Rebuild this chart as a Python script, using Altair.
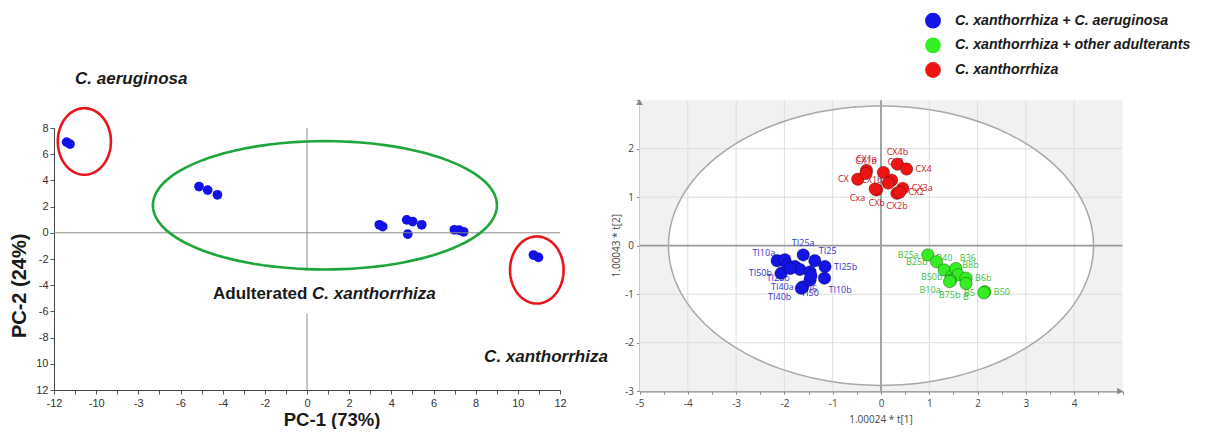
import altair as alt
import pandas as pd
import numpy as np

FONT = "Liberation Sans"
FONT2 = "Open Sans"

# ---------------- Left panel: PCA score plot ----------------
pca_x = [-11.40, -11.24, -5.12, -4.71, -4.25, 3.43, 3.59, 4.73, 5.01, 5.44, 4.78, 6.99, 7.22, 7.43, 10.74, 10.98]
pca_y = [6.92, 6.77, 3.53, 3.26, 2.90, 0.61, 0.48, 0.99, 0.86, 0.61, -0.10, 0.23, 0.20, 0.08, -1.70, -1.88]

# group ellipses (centre x, centre y, radius x, radius y)
red_ell_cx = [-10.56, 10.90]
red_ell_cy = [6.97, -2.84]
red_ell_rx = [1.26, 1.27]
red_ell_ry = [2.54, 2.56]
green_ell_cx = [0.85]
green_ell_cy = [2.10]
green_ell_rx = [8.16]
green_ell_ry = [4.90]

left_x_ticks = list(range(-12, 13))
left_y_ticks = list(range(-12, 9))

# ---------------- Right panel: OPLS score plot ----------------
groups = ["C. xanthorrhiza + C. aeruginosa", "C. xanthorrhiza + other adulterants", "C. xanthorrhiza"]

red_x = [-0.48, -0.30, -0.31, -0.09, -0.12, 0.05, 0.22, 0.15, 0.34, 0.53, 0.45, 0.33, 0.38]
red_y = [1.37, 1.55, 1.49, 1.15, 1.17, 1.51, 1.35, 1.29, 1.68, 1.58, 1.18, 1.08, 1.10]
red_lab = ["CX", "CX1a", "CX1b", "CXb", "Cxa", "CX3", "CX1b", "", "CX4b", "CX4", "CX3a", "CX2b", "CX2"]
red_side = ["L", "T", "T", "B", "BL", "TR", "L", "L", "T", "R", "R", "B", "R"]

blue_x = [-2.15, -1.99, -2.07, -1.94, -1.78, -1.61, -1.68, -1.47, -1.37, -1.62, -1.65, -1.47, -1.45, -1.16, -1.17, -1.88]
blue_y = [-0.31, -0.29, -0.57, -0.40, -0.43, -0.19, -0.49, -0.54, -0.31, -0.85, -0.88, -0.71, -0.62, -0.43, -0.67, -0.47]
blue_lab = ["TI10a", "", "TI50b", "", "", "TI25a", "TI25b", "", "TI25", "TI40a", "TI40b", "TI50", "TI6", "TI25b", "TI10b", ""]
blue_side = ["TL", "L", "L", "L", "L", "T", "BL", "L", "TR", "L", "BL", "B", "B", "R", "BR", "L"]

green_x = [0.97, 1.15, 1.31, 1.46, 1.55, 1.60, 1.44, 1.42, 1.76, 1.76, 2.15, 2.13]
green_y = [-0.19, -0.33, -0.50, -0.64, -0.47, -0.60, -0.72, -0.74, -0.67, -0.78, -0.95, -0.97]
green_lab = ["B25a", "B25b", "B40", "B50b", "B36", "B8b", "B10a", "B75b", "B6b", "B", "B50", "B5"]
green_side = ["L", "L", "T", "L", "TR", "TR", "BL", "B", "R", "B", "R", "L"]

hot_rx = [4.40]
hot_ry = [2.88]
right_x_ticks = [v / 2 for v in range(-10, 11)]
right_y_ticks = [v / 2 for v in range(-6, 7)]
grid_x = [-4, -3, -2, -1, 1, 2, 3, 4]
grid_y = [-2, -1, 1, 2]

point_colors = ["#1414e6", "#33ee22", "#ee1414"]
label_colors = ["#3535c8", "#40c040", "#c8202a"]

# ---------------- scales ----------------
xL = alt.Scale(domain=[-12, 12], range=[46, 552], nice=False, zero=False)
yL = alt.Scale(domain=[-12, 8], range=[382, 120], nice=False, zero=False)
xR = alt.Scale(domain=[-5, 5], range=[631.5, 1114.5], nice=False, zero=False)
yR = alt.Scale(domain=[-3, 3], range=[383.2, 92.2], nice=False, zero=False)
fillS = alt.Scale(domain=groups, range=point_colors)
legY = alt.Scale(domain=groups, range=[12.7, 62], padding=0)


def ell_df(cxs, cys, rxs, rys, n=120):
    rows = []
    for i, (cx, cy, rx, ry) in enumerate(zip(cxs, cys, rxs, rys)):
        for k in range(n + 1):
            t = 2 * np.pi * k / n
            rows.append({"id": i, "k": k, "x": cx + rx * np.cos(t), "y": cy + ry * np.sin(t)})
    return pd.DataFrame(rows)


def LX(f="x"):
    return alt.X(f, type="quantitative", scale=xL)


def LY(f="y"):
    return alt.Y(f, type="quantitative", scale=yL)


def RX(f="x"):
    return alt.X(f, type="quantitative", scale=xR)


def RY(f="y"):
    return alt.Y(f, type="quantitative", scale=yR)


# ---------- left layers ----------
pca_df = pd.DataFrame({"x": pca_x, "y": pca_y})

left_points = alt.Chart(pca_df).mark_circle(size=95, color="#1212e8", opacity=1).encode(
    x=alt.X("x:Q", scale=xL, axis=alt.Axis(
        orient="bottom", offset=-39, title=None, grid=False, values=left_x_ticks,
        labelExpr="datum.value % 2 != 0 ? '' : (datum.value == -8 ? '-3' : toString(datum.value))",
        tickSize=4, tickColor="#555", domainColor="#444", labelFont=FONT, labelFontSize=11,
        labelColor="#333", labelPadding=3, labelFlush=False, labelOverlap=False)),
    y=alt.Y("y:Q", scale=yL, axis=alt.Axis(
        orient="left", offset=-46, title=None, grid=False, values=left_y_ticks,
        labelExpr="datum.value % 2 != 0 ? '' : (datum.value < -9 ? toString(-datum.value) : toString(datum.value))",
        tickSize=4, tickColor="#555", domainColor="#444", labelFont=FONT, labelFontSize=11,
        labelColor="#333", labelPadding=2, labelFlush=False, labelOverlap=False)),
)

hline_df = pd.DataFrame({"x": [-12], "x2": [12], "y": [0]})
left_h = alt.Chart(hline_df).mark_rule(color="#8a8a8a", strokeWidth=1).encode(
    x=LX("x"), x2="x2", y=LY("y"))
vline_df = pd.DataFrame({"x": [0, 0], "y": [8, -6.16], "y2": [-2.9, -12]})
left_v = alt.Chart(vline_df).mark_rule(color="#8a8a8a", strokeWidth=1).encode(
    x=LX("x"), y=LY("y"), y2="y2")

red_ell = alt.Chart(ell_df(red_ell_cx, red_ell_cy, red_ell_rx, red_ell_ry)).mark_line(
    color="#e8161c", strokeWidth=2.6).encode(x=LX(), y=LY(), detail="id:N", order="k:Q")
green_ell = alt.Chart(ell_df(green_ell_cx, green_ell_cy, green_ell_rx, green_ell_ry)).mark_line(
    color="#1ea53c", strokeWidth=2.6).encode(x=LX(), y=LY(), detail="id:N", order="k:Q")

ital_df = pd.DataFrame({"t": ["C. aeruginosa", "C. xanthorrhiza", "C. xanthorrhiza"],
                        "x": [-11.0, 0.24, 8.40], "y": [11.75, -4.66, -9.47]})
left_ital = alt.Chart(ital_df).mark_text(font=FONT, fontSize=17, fontWeight="bold", fontStyle="italic",
                                         align="left", baseline="middle", color="#1a1a1a").encode(
    x=LX(), y=LY(), text="t:N")
norm_df = pd.DataFrame({"t": ["Adulterated"], "x": [-4.46], "y": [-4.66]})
left_norm = alt.Chart(norm_df).mark_text(font=FONT, fontSize=17, fontWeight="bold",
                                         align="left", baseline="middle", color="#1a1a1a").encode(
    x=LX(), y=LY(), text="t:N")
xt_df = pd.DataFrame({"t": ["PC-1 (73%)"], "x": [1.19], "y": [-14.3]})
left_xt = alt.Chart(xt_df).mark_text(font=FONT, fontSize=18.5, fontWeight="bold",
                                     align="center", baseline="middle", color="#1a1a1a").encode(
    x=LX(), y=LY(), text="t:N")
yt_df = pd.DataFrame({"t": ["PC-2 (24%)"], "x": [-13.59], "y": [-4.05]})
left_yt = alt.Chart(yt_df).mark_text(font=FONT, fontSize=20, fontWeight="bold", angle=270,
                                     align="center", baseline="middle", color="#1a1a1a").encode(
    x=LX(), y=LY(), text="t:N")

left = alt.layer(left_points, left_h, left_v, red_ell, green_ell, left_ital, left_norm, left_xt, left_yt)

# ---------- right layers ----------
bg_df = pd.DataFrame({"x": [-5], "x2": [5], "y": [-3], "y2": [3]})
right_bg = alt.Chart(bg_df).mark_rect(color="#f1f1f1").encode(
    x=alt.X("x:Q", scale=xR, axis=alt.Axis(
        orient="bottom", offset=-37.8, title=None, grid=False, values=right_x_ticks,
        labelExpr="(datum.value % 1 != 0 || datum.value == 5) ? '' : toString(datum.value)",
        tickSize=3, tickColor="#888", domainColor="#888", domainWidth=1.5, labelFont=FONT2,
        labelFontSize=10, labelColor="#444", labelPadding=4, labelFlush=False, labelOverlap=False)),
    x2="x2",
    y=alt.Y("y:Q", scale=yR, axis=alt.Axis(
        orient="left", offset=-631.5, title=None, grid=False, values=right_y_ticks,
        labelExpr="(datum.value % 1 != 0 || datum.value == 3) ? '' : toString(datum.value)",
        tickSize=3, tickColor="#888", domainColor="#888", domainWidth=1.5, labelFont=FONT2,
        labelFontSize=10, labelColor="#444", labelPadding=3, labelFlush=False, labelOverlap=False)),
    y2="y2")

n = 160
th = np.linspace(np.pi, 0, n)
hot_fill_df = pd.DataFrame({"x": hot_rx[0] * np.cos(th), "y": hot_ry[0] * np.sin(th),
                            "y2": -hot_ry[0] * np.sin(th)})
right_ellfill = alt.Chart(hot_fill_df).mark_area(color="white", opacity=1).encode(
    x=RX(), y=RY(), y2="y2")
right_ell = alt.Chart(ell_df([0], [0], hot_rx, hot_ry, 200)).mark_line(
    color="#a8a8a8", strokeWidth=1.5).encode(x=RX(), y=RY(), detail="id:N", order="k:Q")

gx_df = pd.DataFrame({"x": grid_x, "y": [-3] * len(grid_x), "y2": [3] * len(grid_x)})
right_gx = alt.Chart(gx_df).mark_rule(color="#dedede", strokeWidth=1).encode(x=RX(), y=RY(), y2="y2")
gy_df = pd.DataFrame({"y": grid_y, "x": [-5] * len(grid_y), "x2": [5] * len(grid_y)})
right_gy = alt.Chart(gy_df).mark_rule(color="#dedede", strokeWidth=1).encode(y=RY(), x=RX(), x2="x2")
c0x_df = pd.DataFrame({"x": [0], "y": [-3], "y2": [3]})
right_c0x = alt.Chart(c0x_df).mark_rule(color="#9a9a9a", strokeWidth=1.8).encode(x=RX(), y=RY(), y2="y2")
c0y_df = pd.DataFrame({"y": [0], "x": [-5], "x2": [5]})
right_c0y = alt.Chart(c0y_df).mark_rule(color="#9a9a9a", strokeWidth=1.8).encode(y=RY(), x=RX(), x2="x2")

arr_up = alt.Chart(pd.DataFrame({"x": [-5], "y": [2.96]})).mark_point(
    shape="triangle-up", filled=True, size=45, color="#888", opacity=1).encode(x=RX(), y=RY())
arr_rt = alt.Chart(pd.DataFrame({"x": [4.95], "y": [-3]})).mark_point(
    shape="triangle-right", filled=True, size=45, color="#888", opacity=1).encode(x=RX(), y=RY())

rxt_df = pd.DataFrame({"t": ["1.00024 * t[1]"], "x": [0.0], "y": [-3.59]})
right_xt = alt.Chart(rxt_df).mark_text(font=FONT2, fontSize=10, color="#444", baseline="middle").encode(
    x=RX(), y=RY(), text="t:N")
ryt_df = pd.DataFrame({"t": ["1.00043 * t[2]"], "x": [-5.47], "y": [0.0]})
right_yt = alt.Chart(ryt_df).mark_text(font=FONT2, fontSize=10, color="#444", baseline="middle",
                                       angle=270).encode(x=RX(), y=RY(), text="t:N")

pts = pd.DataFrame({
    "x": blue_x + green_x + red_x,
    "y": blue_y + green_y + red_y,
    "lab": blue_lab + green_lab + red_lab,
    "side": blue_side + green_side + red_side,
    "group": [groups[0]] * len(blue_x) + [groups[1]] * len(green_x) + [groups[2]] * len(red_x),
})

side_cfg = {
    "L": ("right", -9, 0), "R": ("left", 9, 0), "T": ("center", 0, -12), "B": ("center", 0, 13),
    "TL": ("right", -2, -8), "TR": ("left", 4, -10), "BL": ("right", -10, 9), "BR": ("left", 4, 12),
}
label_layers = []
for s, (al, dx, dy) in side_cfg.items():
    label_layers.append(
        alt.Chart(pts).transform_filter(alt.datum.side == s).mark_text(
            font=FONT2, fontSize=9, align=al, dx=dx, dy=dy, baseline="middle").encode(
            x=RX(), y=RY(), text="lab:N",
            color=alt.Color("group:N", scale=alt.Scale(domain=groups, range=label_colors), legend=None)))

right_pts = alt.Chart(pts).mark_circle(size=155, opacity=1, strokeWidth=1,
                                       stroke="rgba(0,0,0,0.3)").encode(
    x=RX(), y=RY(),
    fill=alt.Fill("group:N", scale=fillS, legend=None),
)

right = alt.layer(right_bg, right_ellfill, right_gx, right_gy, right_c0x, right_c0y, right_ell,
                  arr_up, arr_rt, right_xt, right_yt, *label_layers, right_pts)

# ---------- key (legend) ----------
key_df = pd.DataFrame({"group": groups})
key_sym = alt.Chart(key_df).mark_circle(size=250, opacity=1).encode(
    x=alt.value(925),
    y=alt.Y("group:N", scale=legY, axis=None, sort=groups),
    fill=alt.Fill("group:N", scale=fillS, legend=None),
)
key_txt = alt.Chart(key_df).mark_text(font=FONT, fontSize=14.2, fontStyle="italic", fontWeight="bold",
                                      align="left", baseline="middle", color="#1a1a1a").encode(
    x=alt.value(947),
    y=alt.Y("group:N", scale=legY, axis=None, sort=groups),
    text="group:N",
)
key = alt.layer(key_sym, key_txt)

chart = alt.layer(left, right, key).resolve_scale(x="independent", y="independent").resolve_axis(
    x="independent", y="independent").properties(
    width=1189, height=421, padding=0, autosize="none", background="white"
).configure_view(stroke=None)

chart.save("out.html", embed_options={"renderer": "svg", "actions": False})
